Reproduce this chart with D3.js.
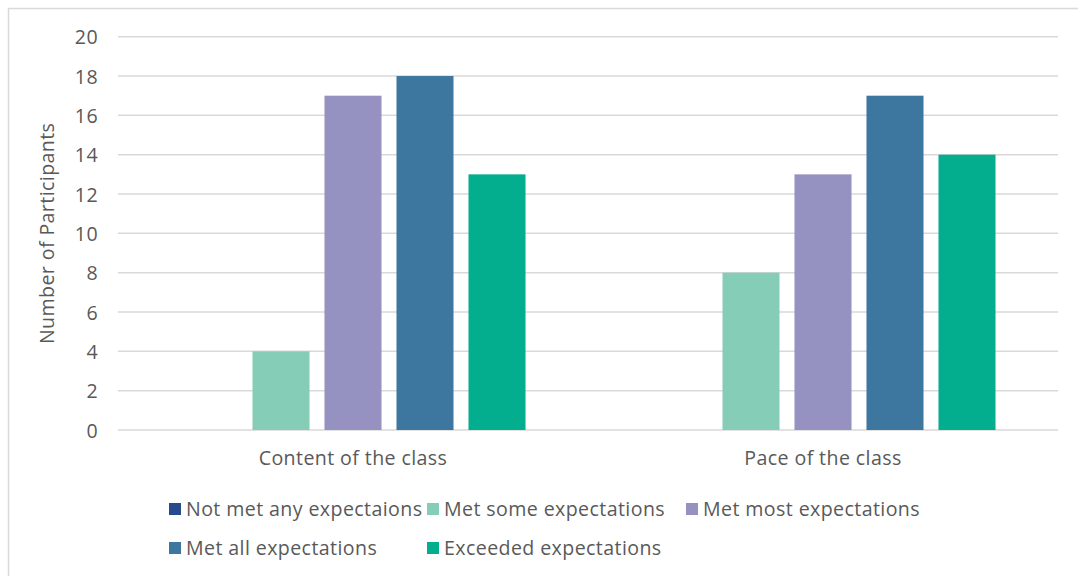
<!DOCTYPE html>
<html>
<head>
<meta charset="utf-8">
<script src="https://cdn.jsdelivr.net/npm/d3@7"></script>
<style>
  html, body { margin: 0; padding: 0; background: #fff; }
  svg { display: block; }
  text { font-family: "Open Sans", "Liberation Sans", Arial, sans-serif; fill: #595959; letter-spacing: 0.4px; }
</style>
</head>
<body>
<svg id="chart" width="1078" height="576"></svg>
<script>
// Survey responses: number of participants per rating, for each question
const categories = ["Content of the class", "Pace of the class"];
const seriesNames = [
  "Not met any expectaions",
  "Met some expectations",
  "Met most expectations",
  "Met all expectations",
  "Exceeded expectations"
];
const notMetAny   = [0, 0];
const metSome     = [4, 8];
const metMost     = [17, 13];
const metAll      = [18, 17];
const exceeded    = [13, 14];
const yTicks = [0, 2, 4, 6, 8, 10, 12, 14, 16, 18, 20];
const seriesColors = ["#264a8c", "#86cdb8", "#9591c0", "#3d769e", "#03ae8f"];

const seriesValues = [notMetAny, metSome, metMost, metAll, exceeded];
const rows = categories.map((c, i) => ({
  category: c,
  values: seriesNames.map((s, j) => ({ series: s, value: seriesValues[j][i] }))
}));

const svg = d3.select("#chart");
const font = 19.6;

// outer frame of the chart area
svg.append("rect")
  .attr("x", 8.5).attr("y", 8.5)
  .attr("width", 1090).attr("height", 590)
  .attr("fill", "#fff").attr("stroke", "#d9d9d9").attr("stroke-width", 1.5);

const plot = { left: 118, right: 1058, top: 36.7, bottom: 430 };

const y = d3.scaleLinear().domain([0, 20]).range([plot.bottom, plot.top]);
const x0 = d3.scaleBand().domain(categories).range([plot.left, plot.right]);
const x1 = d3.scaleBand().domain(seriesNames)
  .range([0, x0.bandwidth()])
  .paddingInner(0.208).paddingOuter(0.868);
const color = d3.scaleOrdinal().domain(seriesNames).range(seriesColors);

// horizontal gridlines
svg.append("g")
  .selectAll("line")
  .data(yTicks)
  .join("line")
  .attr("x1", plot.left).attr("x2", plot.right)
  .attr("y1", d => y(d)).attr("y2", d => y(d))
  .attr("stroke", "#d9d9d9").attr("stroke-width", 1.5);

// y-axis tick labels
const yAxis = d3.axisLeft(y).tickValues(yTicks).tickSize(0).tickPadding(0);
const gy = svg.append("g").attr("transform", "translate(98,0)").call(yAxis);
gy.select(".domain").remove();
gy.selectAll("text")
  .attr("font-size", font)
  .attr("font-family", null)
  .attr("fill", "#595959")
  .attr("dy", "0.36em");

// bars
svg.append("g")
  .selectAll("g")
  .data(rows)
  .join("g")
  .attr("transform", d => `translate(${x0(d.category)},0)`)
  .selectAll("rect")
  .data(d => d.values)
  .join("rect")
  .attr("x", d => x1(d.series))
  .attr("width", x1.bandwidth())
  .attr("y", d => y(d.value))
  .attr("height", d => y(0) - y(d.value))
  .attr("fill", d => color(d.series));

// category axis labels
const xAxis = d3.axisBottom(x0).tickSize(0).tickPadding(0);
const gx = svg.append("g").attr("transform", `translate(0,${plot.bottom})`).call(xAxis);
gx.select(".domain").remove();
gx.selectAll("text")
  .attr("font-size", font)
  .attr("font-family", null)
  .attr("fill", "#595959")
  .attr("dy", 0)
  .attr("y", 35);

// y-axis title
svg.append("text")
  .attr("transform", `translate(54,${(plot.top + plot.bottom) / 2}) rotate(-90)`)
  .attr("text-anchor", "middle")
  .attr("font-size", font)
  .text("Number of Participants");

// legend, laid out in two rows
const legendCols = [169, 427, 686];
const legendRows = [509, 548];
const legend = svg.append("g")
  .selectAll("g")
  .data(seriesNames)
  .join("g")
  .attr("transform", (d, i) => `translate(${legendCols[i % 3]},${legendRows[Math.floor(i / 3)]})`);
legend.append("rect")
  .attr("x", 0).attr("y", -6)
  .attr("width", 12).attr("height", 12)
  .attr("fill", d => color(d));
legend.append("text")
  .attr("x", 17)
  .attr("y", 0)
  .attr("dy", "0.35em")
  .attr("font-size", font)
  .text(d => d);
</script>
</body>
</html>
